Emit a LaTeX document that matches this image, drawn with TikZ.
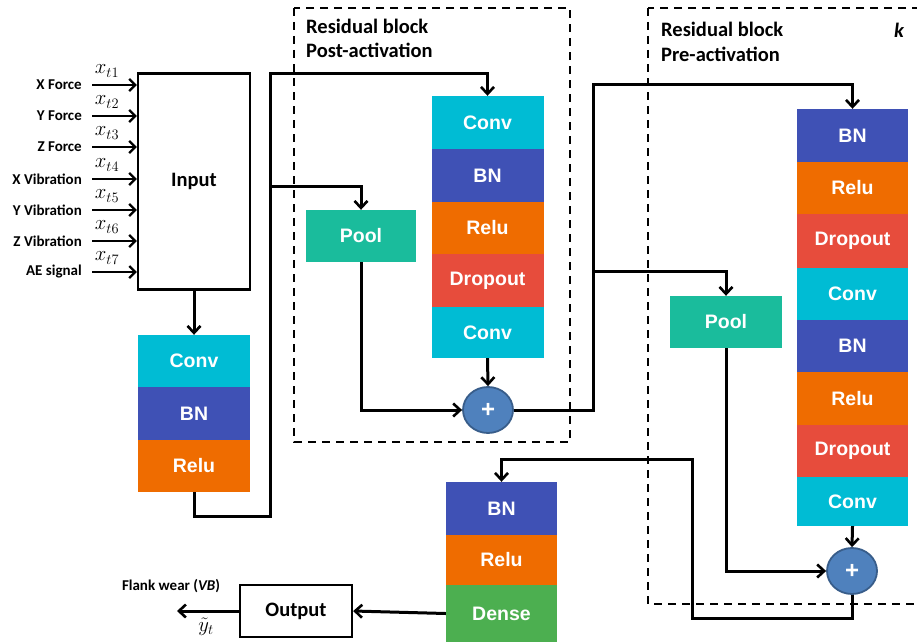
\documentclass[tikz,border=0pt]{standalone}
\usepackage{fontspec}
\setmainfont{Carlito}
\newfontfamily\blockfont{Liberation Sans}
\usetikzlibrary{arrows.meta,shapes.geometric}
\definecolor{cconv}{HTML}{00BCD4}
\definecolor{cbn}{HTML}{3F51B5}
\definecolor{crelu}{HTML}{EF6C00}
\definecolor{cdrop}{HTML}{E74C3C}
\definecolor{cpool}{HTML}{1ABC9C}
\definecolor{cdense}{HTML}{4CAF50}
\definecolor{cplus}{HTML}{4F81BD}
\definecolor{cplusb}{HTML}{385D8A}
\begin{document}
\begin{tikzpicture}[x=1pt,y=-1pt,
  blk/.style={minimum width=112pt, inner sep=0pt, text=white, font=\blockfont\bfseries\fontsize{19.5}{19.5}\selectfont},
  wbox/.style={draw=black, line width=2.4pt, fill=white, inner sep=0pt, font=\bfseries\fontsize{20.5}{20.5}\selectfont},
  sig/.style={anchor=east, inner sep=0pt, font=\bfseries\fontsize{15}{15}\selectfont},
  xl/.style={inner sep=0pt, font=\fontsize{20}{20}\selectfont},
  ttl/.style={anchor=west, inner sep=0pt, font=\bfseries\fontsize{20.5}{20.5}\selectfont},
  plus/.style={ellipse, minimum width=50pt, minimum height=46pt, inner sep=0pt, fill=cplus, draw=cplusb, line width=1.8pt, text=white, font=\blockfont\bfseries\fontsize{24}{24}\selectfont},
  arr/.style={line width=3pt, -{Straight Barb[length=7pt,width=13pt,line width=2.6pt]}},
  thin arr/.style={line width=2.4pt, -{Straight Barb[length=6pt,width=12pt,line width=2.2pt]}},
  dbox/.style={dash pattern=on 8pt off 6pt, line width=2.2pt}
]
\useasboundingbox (0,0) rectangle (917,642);

% dashed boxes
\draw[dbox] (294,8) rectangle (570,442);
\draw[dbox] (648,8) rectangle (930,604);
\node[ttl] (t1a) at (306,26) {Residual block};
\node[ttl] (t1b) at (306,50) {Post-activation};
\node[ttl] (t2a) at (661,29) {Residual block};
\node[ttl] (t2b) at (661,54) {Pre-activation};
\node[inner sep=0pt, font=\bfseries\itshape\fontsize{20.5}{20.5}\selectfont] (kk) at (899,30) {k};

% input
\node[wbox, minimum width=112pt, minimum height=216pt] (input) at (194,181.5) {Input};
\foreach \i/\y/\lab in {1/85/X Force,2/116/Y Force,3/147/Z Force,4/179/X Vibration,5/210/Y Vibration,6/241/Z Vibration,7/272/AE signal}{
  \node[sig] (s\i) at (82,\y) {\lab};
  \coordinate (p\i) at (92,\y);
  \node[xl] (x\i) at (107,{\y-14}) {$x_{t\i}$};
  \draw[thin arr] (p\i) -- (p\i -| input.west);
}

% left stack
\node[blk, fill=cconv, minimum height=52pt] (conv1) at (194,361) {Conv};
\node[blk, fill=cbn, minimum height=53pt] (bn1) at (194,413.5) {BN};
\node[blk, fill=crelu, minimum height=52pt] (relu1) at (194,466) {Relu};

% post-activation block
\node[blk, fill=cconv, minimum height=53pt] (conv2) at (487.5,122.5) {Conv};
\node[blk, fill=cbn, minimum height=53pt] (bn2) at (487.5,175.5) {BN};
\node[blk, fill=crelu, minimum height=52pt] (relu2) at (487.5,228) {Relu};
\node[blk, fill=cdrop, minimum height=53pt] (drop2) at (487.5,280.5) {Dropout};
\node[blk, fill=cconv, minimum height=51pt] (conv3) at (487.5,332.5) {Conv};
\node[blk, fill=cpool, minimum width=110pt, minimum height=52pt] (pool1) at (361,236) {Pool};
\node[plus] (plus1) at (488,410) {+};

% pre-activation block
\node[blk, fill=cbn, minimum width=111pt, minimum height=53pt] (bn3) at (852.5,135.5) {BN};
\node[blk, fill=crelu, minimum width=111pt, minimum height=52pt] (relu3) at (852.5,188) {Relu};
\node[blk, fill=cdrop, minimum width=111pt, minimum height=54pt] (drop3) at (852.5,241) {Dropout};
\node[blk, fill=cconv, minimum width=111pt, minimum height=52pt] (conv4) at (852.5,294) {Conv};
\node[blk, fill=cbn, minimum width=111pt, minimum height=52pt] (bn4) at (852.5,346) {BN};
\node[blk, fill=crelu, minimum width=111pt, minimum height=53pt] (relu4) at (852.5,398.5) {Relu};
\node[blk, fill=cdrop, minimum width=111pt, minimum height=52pt] (drop4) at (852.5,451) {Dropout};
\node[blk, fill=cconv, minimum width=111pt, minimum height=49pt] (conv5) at (852.5,501.5) {Conv};
\node[blk, fill=cpool, minimum height=52pt] (pool2) at (726,322) {Pool};
\node[plus] (plus2) at (852,571) {+};

% final stack
\node[blk, fill=cbn, minimum width=111pt, minimum height=53pt] (bn5) at (501.5,508.5) {BN};
\node[blk, fill=crelu, minimum width=111pt, minimum height=50pt] (relu5) at (501.5,560) {Relu};
\node[blk, fill=cdense, minimum width=111pt, minimum height=57pt] (dense) at (501.5,613.5) {Dense};

% output
\node[wbox, minimum width=112pt, minimum height=52pt] (output) at (296,611) {Output};
\coordinate (oend) at (177,611);
\node[sig, anchor=center] (flank) at (171,586) {Flank wear (\textit{VB})};
\node[xl] (yt) at (206,627) {$\tilde{y}_t$};

% connectors
\draw[arr] (input.south) -- (conv1.north);
\coordinate (a1) at (270,516);
\coordinate (a2) at (270,73);
\coordinate (b1) at (270,186);
\draw[arr] (relu1.south) |- (a1) -- (a2) -| (conv2.north);
\draw[arr] (b1) -| (pool1.north);
\draw[arr] (pool1.south) |- (plus1.west);
\draw[arr] (conv3.south) -- (plus1.north);

\coordinate (c1) at (593,84);
\coordinate (c2) at (593,271);
\draw[arr] (plus1.east) -| (c1) -| (bn3.north);
\draw[arr] (c2) -| (pool2.north);
\draw[arr] (pool2.south) |- (plus2.west);
\draw[arr] (conv5.south) -- (plus2.north);

\coordinate (d1) at (692,618);
\coordinate (d2) at (692,459);
\draw[arr] (plus2.south) |- (d1) -- (d2) -| (bn5.north);

\draw[arr] (dense.west) -- (output.east);
\draw[arr] (output.west) -- (oend);
\end{tikzpicture}
\end{document}
